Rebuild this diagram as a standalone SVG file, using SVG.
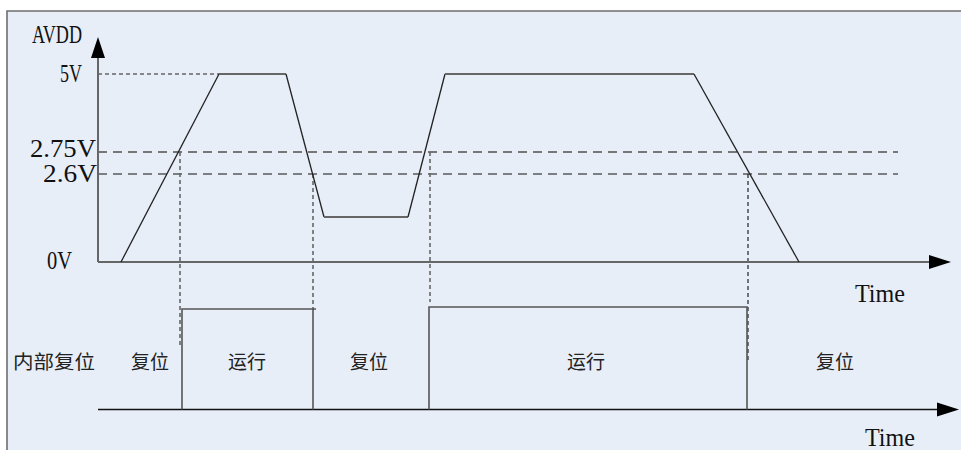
<svg xmlns="http://www.w3.org/2000/svg" width="961" height="450" viewBox="0 0 961 450">
<style>
.ax{stroke:#666;stroke-width:2;fill:none}
.ax2{stroke:#111;stroke-width:1.5;fill:none}
.wave{stroke:#222;stroke-width:1.3;fill:none}
.flat{stroke:#666;stroke-width:2;fill:none}
.d275{stroke:#777;stroke-width:2;stroke-dasharray:9,6;fill:none}
.d26{stroke:#111;stroke-width:1.2;stroke-dasharray:9,6;fill:none}
.dv{stroke:#666;stroke-width:1.6;stroke-dasharray:4,3;fill:none}
.dvk{stroke:#222;stroke-width:1.2;stroke-dasharray:4,3;fill:none}
.pulse{stroke:#555;stroke-width:1.6;fill:none}
.en{font-family:"Liberation Serif",serif;font-size:25px;fill:#111}
.cn{font-family:"Noto Sans CJK SC",sans-serif;font-size:19px;fill:#222}
</style>
<rect x="0" y="0" width="961" height="450" fill="#ffffff"/>
<rect x="7" y="11" width="954" height="439" fill="#E7EEF8"/>
<path d="M7,450 V11 H961" stroke="#6e6e6e" stroke-width="1.6" fill="none"/>

<g id="thresholds">
<line class="dv" x1="98" y1="74" x2="220" y2="74"/>
<line class="d275" x1="98" y1="152" x2="898" y2="152"/>
<line class="d26" x1="98" y1="174" x2="898" y2="174"/>
<line class="dv" x1="180" y1="152" x2="180" y2="348"/>
<line class="dv" x1="313" y1="174" x2="313" y2="310"/>
<line class="dv" x1="430" y1="152" x2="430" y2="302"/>
<line class="dvk" x1="748" y1="174" x2="748" y2="360"/>
</g>

<g id="axes">
<line class="ax" x1="98" y1="58" x2="98" y2="262"/>
<polygon points="98,37 91,58 105,58" fill="#000"/>
<line class="ax" x1="98" y1="262" x2="930" y2="262"/>
<polygon points="951,262 929,255 929,269" fill="#000"/>
<line class="ax2" x1="98" y1="409.5" x2="938" y2="409.5"/>
<polygon points="959,409.5 937,402.5 937,416.5" fill="#000"/>
</g>

<g id="waveform">
<polyline class="wave" points="121,262 219,74"/>
<line class="flat" x1="219" y1="74" x2="286" y2="74"/>
<polyline class="wave" points="286,74 324,217"/>
<line class="flat" x1="324" y1="217" x2="408" y2="217"/>
<polyline class="wave" points="408,217 445,74"/>
<line class="flat" x1="445" y1="74" x2="694" y2="74"/>
<polyline class="wave" points="694,74 799,262"/>
</g>

<g id="reset-signal">
<polyline class="pulse" points="182,409.5 182,309 316,309"/>
<line class="pulse" x1="313" y1="309" x2="313" y2="409.5"/>
<polyline class="pulse" points="429,409.5 429,307 747,307 747,409.5"/>
</g>

<g id="labels">
<text class="en" x="32" y="43" textLength="50" lengthAdjust="spacingAndGlyphs">AVDD</text>
<text class="en" x="60" y="82" textLength="22" lengthAdjust="spacingAndGlyphs">5V</text>
<text class="en" x="30" y="157" textLength="66" lengthAdjust="spacingAndGlyphs">2.75V</text>
<text class="en" x="43" y="182" textLength="54" lengthAdjust="spacingAndGlyphs">2.6V</text>
<text class="en" x="47" y="269" textLength="25" lengthAdjust="spacingAndGlyphs">0V</text>
<text class="en" x="855" y="302" textLength="50" lengthAdjust="spacingAndGlyphs">Time</text>
<text class="en" x="865" y="446" textLength="50" lengthAdjust="spacingAndGlyphs">Time</text>
<text class="cn" x="13" y="369" textLength="82" lengthAdjust="spacingAndGlyphs">内部复位</text>
<text class="cn" x="150" y="369" text-anchor="middle">复位</text>
<text class="cn" x="247" y="369" text-anchor="middle">运行</text>
<text class="cn" x="369" y="369" text-anchor="middle">复位</text>
<text class="cn" x="586" y="369" text-anchor="middle">运行</text>
<text class="cn" x="835" y="369" text-anchor="middle">复位</text>
</g>
</svg>
